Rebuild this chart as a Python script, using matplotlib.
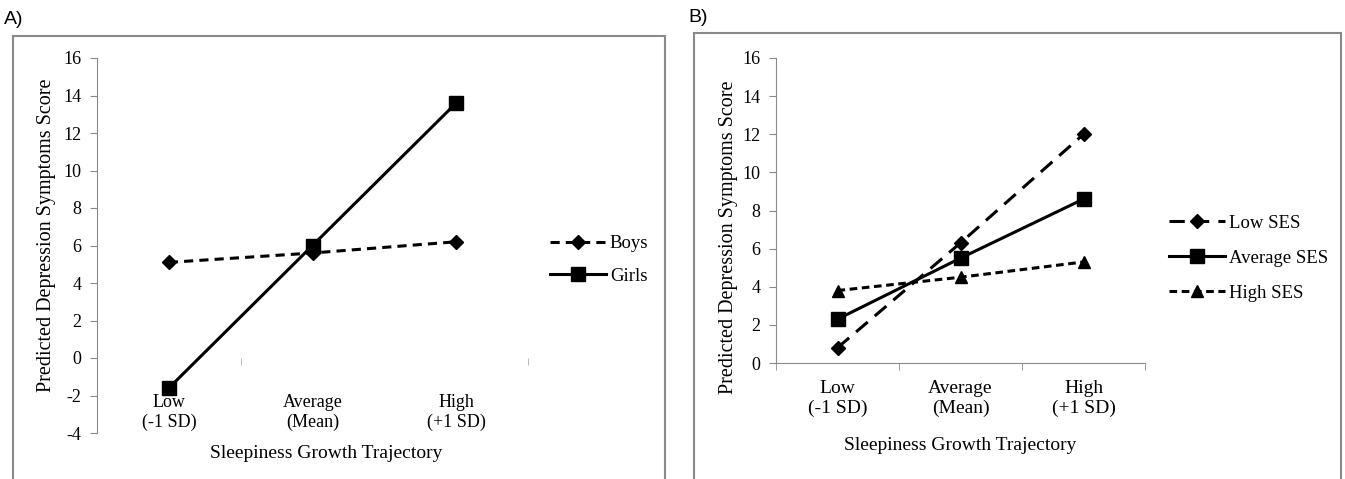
import matplotlib
matplotlib.use("Agg")
import matplotlib.pyplot as plt
from matplotlib.patches import Rectangle

categories = ["Low\n(-1 SD)", "Average\n(Mean)", "High\n(+1 SD)"]
x_title = "Sleepiness Growth Trajectory"
y_title = "Predicted Depression Symptoms Score"

# panel A
boys = [5.1, 5.6, 6.2]
girls = [-1.6, 6.0, 13.6]

# panel B
low_ses = [0.8, 6.3, 12.0]
avg_ses = [2.3, 5.5, 8.6]
high_ses = [3.8, 4.5, 5.3]

plt.rcParams['font.family'] = ['Liberation Serif', 'DejaVu Serif']
plt.rcParams['font.size'] = 13
plt.rcParams['axes.unicode_minus'] = False
grey = '#8a8a8a'

fig = plt.figure(figsize=(13.45, 4.79), dpi=100)
W, H = 1345.0, 479.0

def fx(px):
    return px / W

def fy(py):
    return 1 - py / H

# outer frames and panel letters
fig.patches.append(Rectangle((fx(13), -0.05), fx(665) - fx(13), fy(36) + 0.05,
                             transform=fig.transFigure, fill=False, ec=grey, lw=1.5))
fig.patches.append(Rectangle((fx(694), -0.05), fx(1341) - fx(694), fy(33) + 0.05,
                             transform=fig.transFigure, fill=False, ec=grey, lw=1.5))
fig.text(fx(4), fy(20), "A)", family='Liberation Sans', fontsize=14, va='center')
fig.text(fx(688), fy(18), "B)", family='Liberation Sans', fontsize=14, va='center')

xs = [1, 2, 3]
lab_size = 14


def style_axes(ax, pad):
    for s in ['top', 'right']:
        ax.spines[s].set_visible(False)
    ax.spines['left'].set_color(grey)
    ax.set_xlim(0.5, 3.5)
    ax.set_xticks(xs)
    ax.set_xticklabels(categories, linespacing=1.2, fontsize=lab_size)
    ax.tick_params(axis='x', length=0, pad=pad)
    ax.tick_params(axis='y', length=5, color=grey, pad=6)


# ---- A ----
axA = fig.add_axes([fx(97), fy(433), fx(528) - fx(97), fy(58) - fy(433)])
axA.plot(xs, boys, color='black', lw=2.2, ls=(0, (3, 2)), marker='D', ms=7, label='Boys')
axA.plot(xs, girls, color='black', lw=2.2, ls='-', marker='s', ms=10, label='Girls')
axA.set_ylim(-4, 16)
axA.set_yticks(range(-4, 17, 2))
style_axes(axA, 26)
axA.spines['bottom'].set_position(('data', 0))
axA.spines['bottom'].set_color('none')
axA.set_xticks([1.5, 3.5], minor=True)
axA.tick_params(axis='x', which='minor', length=5, color='#b0b0b0', direction='out')
axA.set_xlabel(x_title, fontsize=lab_size, va='center')
axA.xaxis.set_label_coords((326 - 97) / 431.0, -(453 - 433) / 375.0)
axA.set_ylabel(y_title, fontsize=14.5, va='center')
axA.yaxis.set_label_coords((47 - 97) / 431.0, (433 - 235) / 375.0)
axA.legend(loc='center left', bbox_to_anchor=(fx(533), fy(260)), bbox_transform=fig.transFigure,
           frameon=False, fontsize=13.5, handlelength=3.0, handletextpad=0.2, labelspacing=0.8)

# ---- B ----
axB = fig.add_axes([fx(776), fy(363), fx(1145) - fx(776), fy(58) - fy(363)])
axB.plot(xs, low_ses, color='black', lw=2.2, ls=(0, (5, 3)), marker='D', ms=7, label='Low SES')
axB.plot(xs, avg_ses, color='black', lw=2.2, ls='-', marker='s', ms=10, label='Average SES')
axB.plot(xs, high_ses, color='black', lw=2.2, ls=(0, (2.5, 1.5)), marker='^', ms=9, label='High SES')
axB.set_ylim(0, 16)
axB.set_yticks(range(0, 17, 2))
style_axes(axB, 12)
axB.spines['bottom'].set_color(grey)
axB.set_xticks([0.5, 1.5, 2.5, 3.5], minor=True)
axB.tick_params(axis='x', which='minor', length=5, color=grey, direction='out')
axB.set_xlabel(x_title, fontsize=lab_size, va='center')
axB.xaxis.set_label_coords(0.5, -(445 - 363) / 305.0)
axB.set_ylabel(y_title, fontsize=14.5, va='center')
axB.yaxis.set_label_coords((728 - 776) / 369.0, (363 - 237) / 305.0)
axB.legend(loc='center left', bbox_to_anchor=(fx(1152), fy(258)), bbox_transform=fig.transFigure,
           frameon=False, fontsize=13.5, handlelength=3.0, handletextpad=0.2, labelspacing=0.95)

fig.savefig("out.png", dpi=100)
